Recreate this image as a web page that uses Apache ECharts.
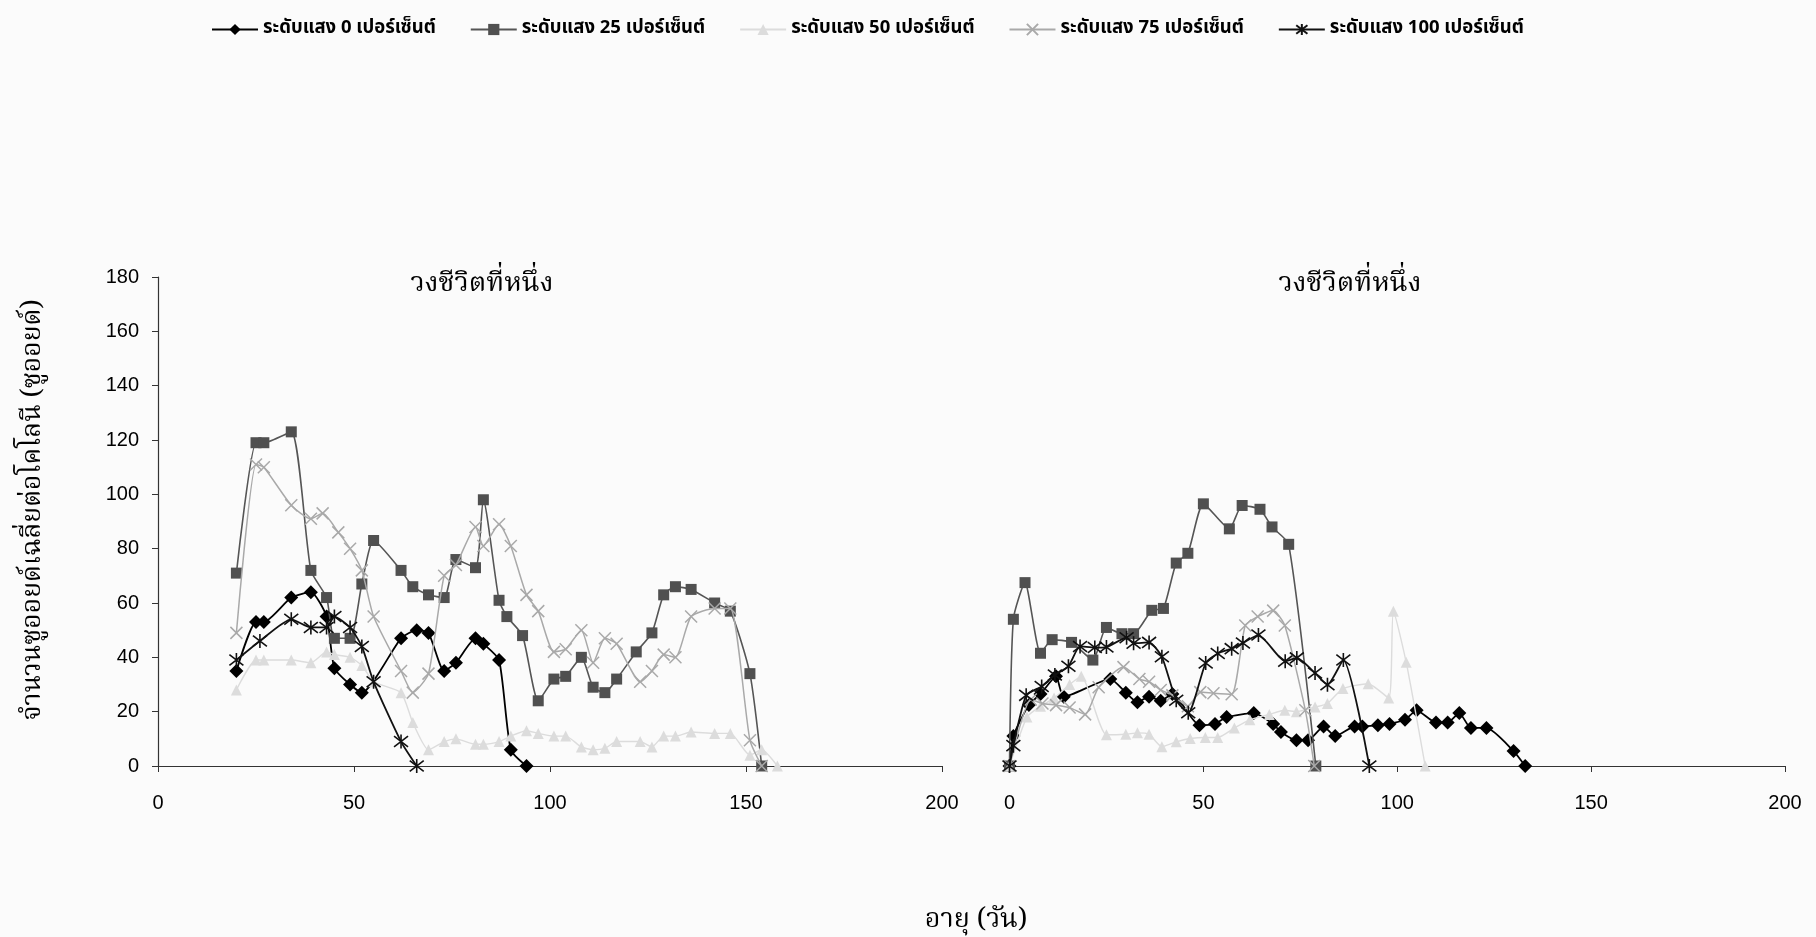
<!DOCTYPE html>
<html>
<head>
<meta charset="utf-8">
<script src="https://cdn.jsdelivr.net/npm/echarts@6/dist/echarts.min.js"></script>
<style>
  html, body { margin: 0; padding: 0; background: #fbfbfb; }
  #chart { width: 1816px; height: 937px; }
</style>
</head>
<body>
<div id="chart"></div>
<script>
// Series names (light level, percent)
const seriesNames = [
  'ระดับแสง 0 เปอร์เซ็นต์',
  'ระดับแสง 25 เปอร์เซ็นต์',
  'ระดับแสง 50 เปอร์เซ็นต์',
  'ระดับแสง 75 เปอร์เซ็นต์',
  'ระดับแสง 100 เปอร์เซ็นต์'
];
const panelTitles = ['วงชีวิตที่หนึ่ง', 'วงชีวิตที่หนึ่ง'];
const yAxisTitle = 'จำนวนซูออยด์เฉลี่ยต่อโคโลนี (ซูออยด์)';
const xAxisTitle = 'อายุ (วัน)';

// Axis ranges
const xTicks = [0, 50, 100, 150, 200];
const yTicks = [0, 20, 40, 60, 80, 100, 120, 140, 160, 180];

// ---- Left panel: age (days) and mean zooids per colony ----
const left0Days = [20, 25, 27, 34, 39, 43, 45, 49, 52, 62, 66, 69, 73, 76, 81, 83, 87, 90, 94];
const left0Vals = [35, 53, 53, 62, 64, 55, 36, 30, 27, 47, 50, 49, 35, 38, 47, 45, 39, 6, 0];

const left25Days = [20, 25, 27, 34, 39, 43, 45, 49, 52, 55, 62, 65, 69, 73, 76, 81, 83, 87, 89, 93, 97, 101, 104, 108, 111, 114, 117, 122, 126, 129, 132, 136, 142, 146, 151, 154];
const left25Vals = [71, 119, 119, 123, 72, 62, 47, 47, 67, 83, 72, 66, 63, 62, 76, 73, 98, 61, 55, 48, 24, 32, 33, 40, 29, 27, 32, 42, 49, 63, 66, 65, 60, 57, 34, 0];

const left50Days = [20, 25, 27, 34, 39, 43, 45, 49, 52, 55, 62, 65, 69, 73, 76, 81, 83, 87, 90, 94, 97, 101, 104, 108, 111, 114, 117, 123, 126, 129, 132, 136, 142, 146, 151, 154, 158];
const left50Vals = [28, 39, 39, 39, 38, 42, 41, 40, 37, 31, 27, 16, 6, 9, 10, 8, 8, 9, 11, 13, 12, 11, 11, 7, 6, 6.5, 9, 9, 7, 11, 11, 12.5, 12, 12, 4, 6, 0];

const left75Days = [20, 25, 27, 34, 39, 42, 46, 49, 52, 55, 62, 65, 69, 73, 76, 81, 83, 87, 90, 94, 97, 101, 104, 108, 111, 114, 117, 123, 126, 129, 132, 136, 142, 146, 151, 154];
const left75Vals = [49, 111, 110, 96, 91, 93, 86, 80, 72, 55, 35, 27, 34, 70, 74, 88, 81, 89, 81, 63, 57, 42, 43, 50, 38, 47, 45, 31, 35, 41, 40, 55, 58, 58, 9.5, 0];

const left100Days = [20, 26, 34, 39, 43, 45, 49, 52, 55, 62, 66];
const left100Vals = [39, 46, 54, 51, 51, 55, 51, 44, 31, 9, 0];

// ---- Right panel ----
const right0Days = [0, 1, 5, 8, 12, 14, 26, 30, 33, 36, 39, 42, 49, 53, 56, 63, 68, 70, 74, 77, 81, 84, 89, 91, 95, 98, 102, 105, 110, 113, 116, 119, 123, 130, 133];
const right0Vals = [0, 11, 22.5, 26.5, 33, 25.5, 32, 27, 23.5, 25.5, 24, 26.5, 15, 15.5, 18, 19.5, 15.5, 12.5, 9.5, 9.5, 14.5, 11, 14.5, 14.5, 15, 15.5, 17, 20.5, 16, 16, 19.5, 14, 14, 5.5, 0];

const right25Days = [0, 1, 4, 8, 11, 16, 21.5, 25, 29, 32, 36.7, 39.7, 43, 46, 50, 56.7, 60, 64.6, 67.7, 72, 79];
const right25Vals = [0, 54, 67.5, 41.5, 46.5, 45.5, 39, 51, 48.7, 48.7, 57.3, 58, 74.7, 78.3, 96.5, 87.3, 95.9, 94.5, 88, 81.6, 0];

const right50Days = [0, 4.5, 8, 11.5, 15.5, 18.5, 25, 30, 33, 36, 39.3, 43, 46.6, 50.5, 53.7, 58, 62, 67, 71, 74, 78.8, 82, 86, 92.5, 97.8, 99, 102.3, 107.2];
const right50Vals = [0, 18, 22, 25, 30, 33, 11.5, 11.7, 12.2, 11.7, 7.1, 8.9, 10.1, 10.5, 10.5, 14, 17, 19, 20.5, 20, 21.7, 23, 28.5, 30.3, 25, 57, 38.2, 0];

const right75Days = [0, 5.5, 8.5, 12, 15.5, 19.5, 23, 29.4, 33.5, 36, 39, 42, 46, 49.2, 52.6, 57.3, 60.8, 64, 68, 71, 76.3, 78.6];
const right75Vals = [0, 24.5, 23, 22.4, 21.5, 19, 29, 36.4, 32, 31, 28, 26, 22, 27.2, 26.8, 26.4, 51.7, 55, 57.2, 51.7, 20.5, 0];

const right100Days = [0, 1, 4.3, 8.3, 11.7, 15.2, 18.2, 22, 25, 30.2, 32, 36, 39.3, 43, 46.1, 50.6, 53.7, 57.3, 60.2, 64.2, 71.1, 74.1, 78.8, 82, 86.1, 92.8];
const right100Vals = [0, 7.5, 26, 29.3, 33.5, 36.7, 44, 43.6, 43.8, 47.2, 45.2, 45.5, 40.2, 24.2, 19.6, 37.9, 41.4, 43.2, 45.3, 48.2, 38.6, 39.8, 34.2, 29.9, 39, 0];

// Pair day/value arrays into [x, y] points
function pairs(days, vals) {
  return days.map((d, i) => [d, vals[i]]);
}

const thaiSans = '"Noto Sans Thai", "Noto Sans Thai UI", Tahoma, "DejaVu Sans", sans-serif';
const thaiSerif = '"Noto Serif Thai", "Noto Sans Thai", "Liberation Serif", serif';
const numFont = '"Liberation Sans", Arial, sans-serif';

// Marker / line styling per light level
const styles = [
  { symbol: 'diamond', size: 14, line: '#000000', fill: '#000000', border: '#000000', bw: 0, lw: 1.8 },
  { symbol: 'rect', size: 11, line: '#555555', fill: '#505050', border: '#505050', bw: 0, lw: 1.6 },
  { symbol: 'triangle', size: 11, line: '#dcdcdc', fill: '#dcdcdc', border: '#dcdcdc', bw: 0, lw: 1.4 },
  { symbol: 'path://M0,0L10,10M10,0L0,10', size: 12, line: '#a9a9a9', fill: 'rgba(0,0,0,0)', border: '#a9a9a9', bw: 1.5, lw: 1.5 },
  { symbol: 'path://M0,0L10,10M10,0L0,10M5,-1.5L5,11.5', size: 14, line: '#111111', fill: 'rgba(0,0,0,0)', border: '#111111', bw: 1.6, lw: 1.8 }
];

const leftData = [
  pairs(left0Days, left0Vals),
  pairs(left25Days, left25Vals),
  pairs(left50Days, left50Vals),
  pairs(left75Days, left75Vals),
  pairs(left100Days, left100Vals)
];
const rightData = [
  pairs(right0Days, right0Vals),
  pairs(right25Days, right25Vals),
  pairs(right50Days, right50Vals),
  pairs(right75Days, right75Vals),
  pairs(right100Days, right100Vals)
];

function makeSeries(data, idx, axisIndex) {
  const s = styles[idx];
  return {
    type: 'line',
    name: seriesNames[idx],
    xAxisIndex: axisIndex,
    yAxisIndex: axisIndex,
    data: data,
    smooth: 0.2,
    symbol: s.symbol,
    symbolSize: s.size,
    showSymbol: true,
    lineStyle: { color: s.line, width: s.lw },
    itemStyle: { color: s.fill, borderColor: s.border, borderWidth: s.bw },
    emphasis: { disabled: true },
    z: 2 + idx
  };
}

const series = [];
for (let i = 0; i < 5; i++) series.push(makeSeries(leftData[i], i, 0));
for (let i = 0; i < 5; i++) series.push(makeSeries(rightData[i], i, 1));

function xAxisCfg(gridIndex) {
  return {
    type: 'value',
    gridIndex: gridIndex,
    min: xTicks[0],
    max: xTicks[xTicks.length - 1],
    interval: xTicks[1] - xTicks[0],
    axisLine: { show: true, onZero: false, lineStyle: { color: '#333', width: 1.2 } },
    axisTick: { show: true, length: 6, lineStyle: { color: '#333' } },
    axisLabel: { color: '#000', fontSize: 20, fontFamily: numFont, margin: 27 },
    splitLine: { show: false }
  };
}

function yAxisCfg(gridIndex, visible) {
  return {
    type: 'value',
    gridIndex: gridIndex,
    show: visible,
    min: yTicks[0],
    max: yTicks[yTicks.length - 1],
    interval: yTicks[1] - yTicks[0],
    axisLine: { show: true, lineStyle: { color: '#333', width: 1.2 } },
    axisTick: { show: true, length: 6, lineStyle: { color: '#333' } },
    axisLabel: { color: '#000', fontSize: 20, fontFamily: numFont, margin: 19 },
    splitLine: { show: false }
  };
}

const chart = echarts.init(document.getElementById('chart'), null, { renderer: 'canvas' });
chart.setOption({
  animation: false,
  backgroundColor: '#fbfbfb',
  legend: {
    top: 15,
    left: 206,
    itemWidth: 46,
    itemHeight: 14,
    itemGap: 34,
    data: seriesNames,
    textStyle: { color: '#000', fontSize: 18.5, fontWeight: 'bold', fontFamily: thaiSans }
  },
  grid: [
    { left: 158, top: 277, width: 784, height: 489 },
    { left: 1009.5, top: 277, width: 775.5, height: 489 }
  ],
  xAxis: [xAxisCfg(0), xAxisCfg(1)],
  yAxis: [yAxisCfg(0, true), yAxisCfg(1, false)],
  graphic: [
    { type: 'text', x: 482, y: 286, style: { text: panelTitles[0], fill: '#000', font: '27.5px ' + thaiSerif, textAlign: 'center', textVerticalAlign: 'middle', align: 'center', verticalAlign: 'middle' } },
    { type: 'text', x: 1350, y: 286, style: { text: panelTitles[1], fill: '#000', font: '27.5px ' + thaiSerif, textAlign: 'center', textVerticalAlign: 'middle', align: 'center', verticalAlign: 'middle' } },
    { type: 'text', x: 36, y: 510, rotation: Math.PI / 2, style: { text: yAxisTitle, fill: '#000', font: '26.5px ' + thaiSerif, textAlign: 'center', textVerticalAlign: 'middle', align: 'center', verticalAlign: 'middle' } },
    { type: 'text', x: 976, y: 923, style: { text: xAxisTitle, fill: '#000', font: '27px ' + thaiSerif, textAlign: 'center', textVerticalAlign: 'middle', align: 'center', verticalAlign: 'middle' } }
  ],
  series: series
});
</script>
</body>
</html>
